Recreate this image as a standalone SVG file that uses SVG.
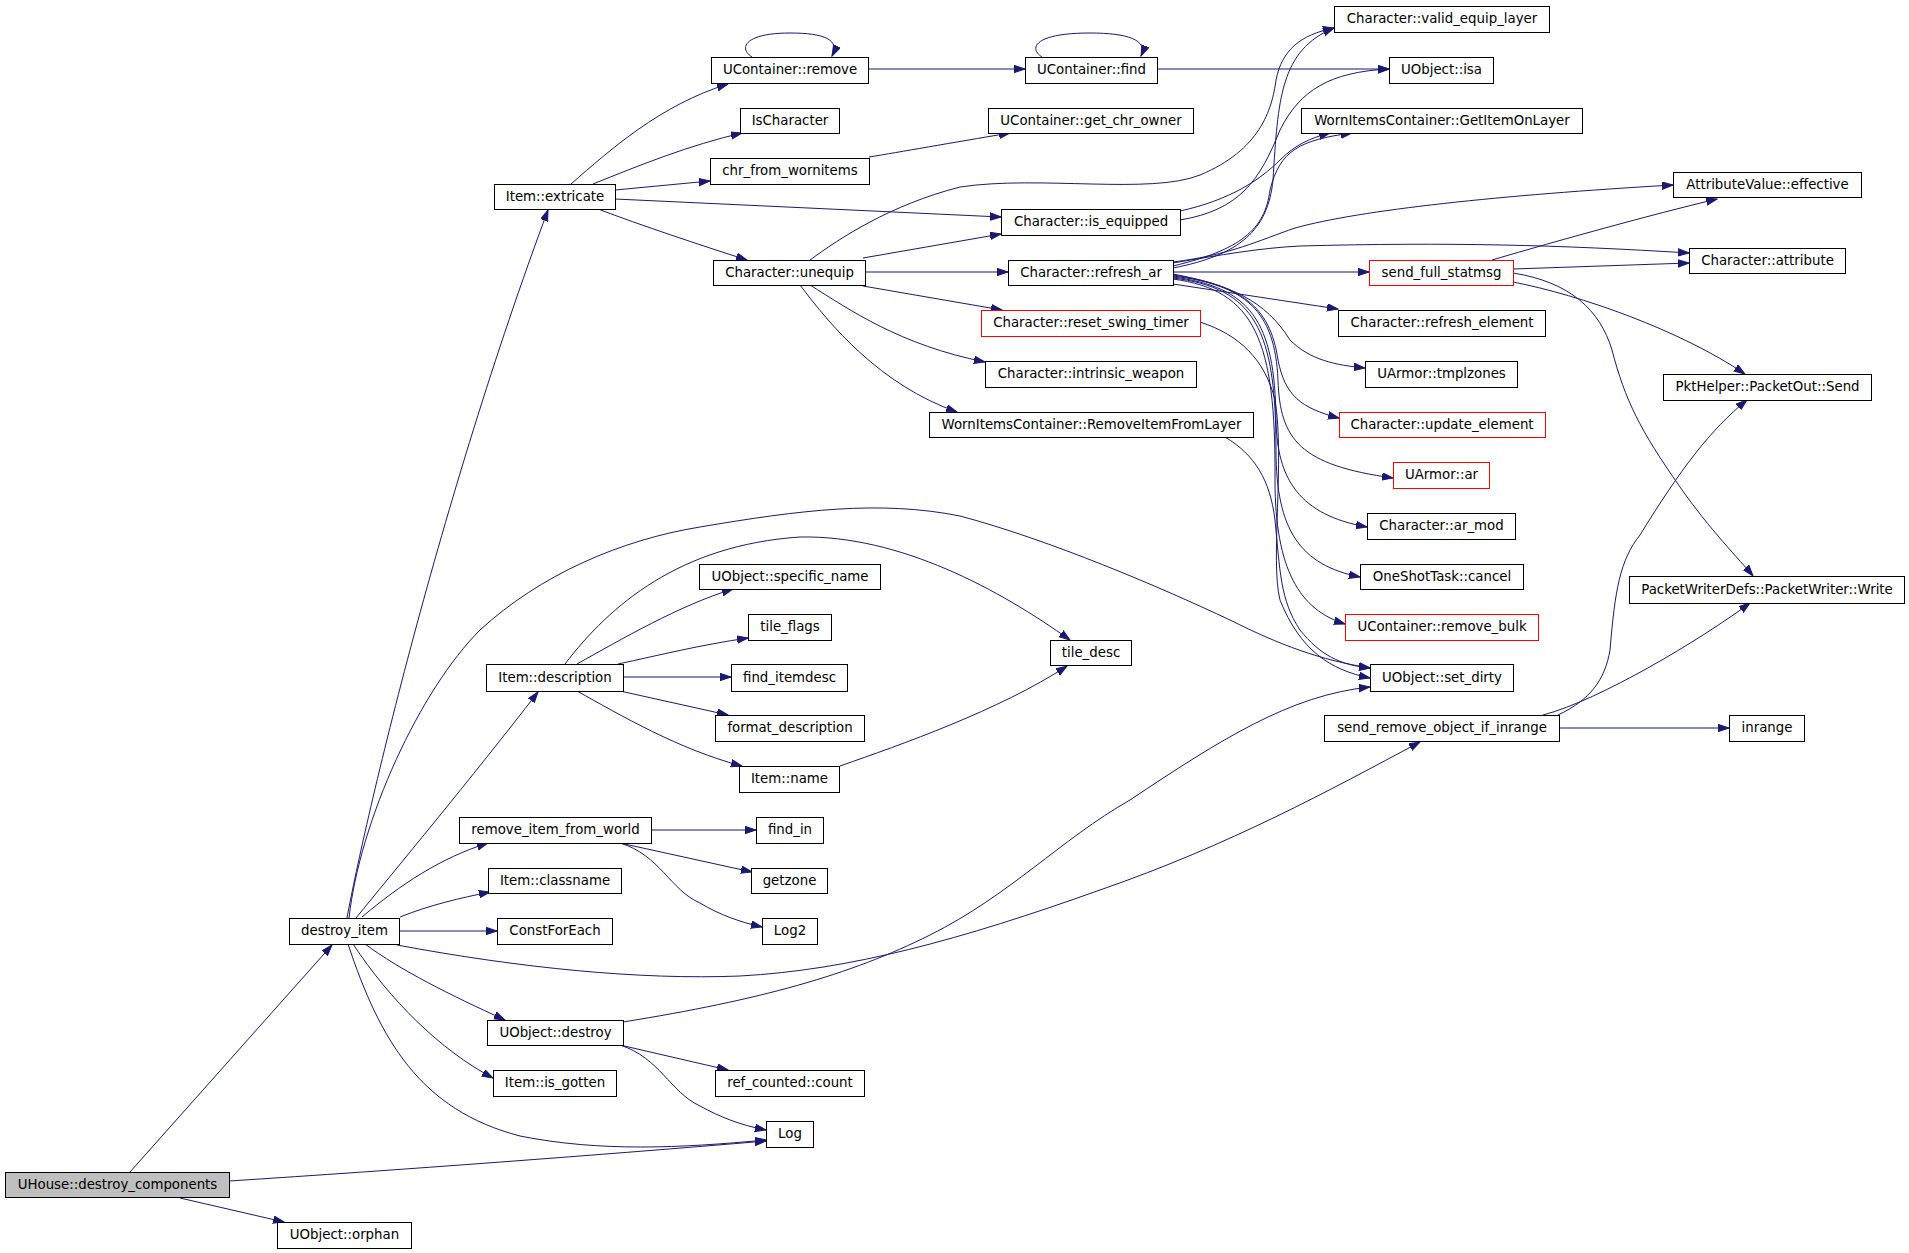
<svg xmlns="http://www.w3.org/2000/svg" width="1909" height="1253" viewBox="0 0 1909 1253">
<defs>
<marker id="a" markerWidth="12" markerHeight="9" refX="11" refY="4" orient="auto" markerUnits="userSpaceOnUse"><path d="M0,0.3 L11,4 L0,7.7z" fill="#191970" stroke="#191970" stroke-width="1"/></marker>
</defs>
<style>
.n rect{fill:#fff;stroke:#000;stroke-width:1}
.n.red rect{stroke:#ff0000}
.n.root rect{fill:#bfbfbf}
.n text{font-family:"DejaVu Sans",sans-serif;font-size:13.33px;text-anchor:middle;fill:#000}
#edges path{fill:none;stroke:#191970;stroke-width:1;marker-end:url(#a)}
</style>
<rect width="1909" height="1253" fill="#fff"/>
<g id="edges">
<path d="M130,1172 L332,945"/>
<path d="M229,1181 C400,1170 600,1155 766,1141"/>
<path d="M180,1198 L284,1222"/>
<path d="M347,918 C365,820 440,500 548,210"/>
<path d="M356,918 C395,870 470,780 538,692"/>
<path d="M349,918 C360,820 420,690 480,630 C540,575 620,540 700,527 C800,510 880,500 960,516 C1050,540 1160,587 1230,620 C1280,645 1320,660 1370,668"/>
<path d="M362,917 C400,885 440,858 488,843"/>
<path d="M400,917 C430,905 460,898 490,892"/>
<path d="M399,931 L497,931"/>
<path d="M397,945 C520,968 640,980 740,976 C850,970 960,940 1100,890 C1230,845 1330,790 1420,742"/>
<path d="M365,944 C400,970 450,995 505,1020"/>
<path d="M353,944 C390,1000 440,1050 493,1078"/>
<path d="M348,944 C380,1040 420,1110 520,1136 C600,1152 680,1148 766,1140"/>
<path d="M571,184 C610,150 660,105 728,84"/>
<path d="M593,184 C640,165 690,145 742,133"/>
<path d="M615,190 L710,181"/>
<path d="M615,199 L1001,217"/>
<path d="M598,209 C640,225 700,245 747,260"/>
<path d="M869,157 C900,152 950,143 1010,133"/>
<path d="M752,57 C738,48 745,33 790,33 C825,33 840,40 832,56"/>
<path d="M868,69 L1025,69"/>
<path d="M1042,57 C1028,48 1035,33 1090,33 C1128,33 1148,40 1141,56"/>
<path d="M1157,69 L1389,69"/>
<path d="M810,260 C840,238 890,205 960,187 C1040,175 1150,195 1200,175 C1260,150 1272,110 1276,80 C1282,50 1300,35 1334,28"/>
<path d="M863,258 L1001,234"/>
<path d="M865,272 L1008,272"/>
<path d="M863,286 L1002,310"/>
<path d="M810,285 C850,310 900,345 985,362"/>
<path d="M800,285 C830,325 880,385 957,412"/>
<path d="M1180,211 C1230,200 1260,180 1280,160 C1295,145 1310,138 1330,133"/>
<path d="M1180,220 C1240,210 1260,180 1280,130 C1300,90 1330,72 1389,69"/>
<path d="M1173,268 C1240,255 1268,230 1273,180 C1278,100 1280,50 1334,28"/>
<path d="M1173,266 C1240,250 1265,230 1270,190 C1280,150 1300,140 1352,133"/>
<path d="M1173,262 C1230,255 1260,240 1295,228 C1360,210 1500,195 1673,185"/>
<path d="M1173,263 C1220,255 1260,248 1300,246 C1450,242 1560,245 1689,253"/>
<path d="M1173,272 L1369,272"/>
<path d="M1173,284 L1338,309"/>
<path d="M1173,274 C1230,285 1265,300 1290,340 C1310,360 1335,365 1365,368"/>
<path d="M1173,275 C1240,285 1270,305 1278,360 C1285,395 1300,408 1339,418"/>
<path d="M1173,276 C1245,285 1275,310 1278,380 C1280,440 1300,465 1393,478"/>
<path d="M1173,277 C1250,287 1275,320 1276,420 C1277,480 1300,515 1367,527"/>
<path d="M1173,278 C1255,288 1276,330 1276,450 C1276,530 1300,565 1360,577"/>
<path d="M1173,279 C1255,290 1276,340 1275,480 C1275,570 1300,610 1345,624"/>
<path d="M1492,260 C1560,240 1650,215 1717,199"/>
<path d="M1513,269 L1689,263"/>
<path d="M1513,282 C1580,295 1680,330 1745,374"/>
<path d="M1513,273 C1570,282 1600,310 1612,350 C1625,400 1640,430 1680,487 C1710,530 1740,560 1753,576"/>
<path d="M1200,322 C1240,335 1265,360 1275,400 C1285,460 1270,560 1280,600 C1300,650 1330,670 1370,678"/>
<path d="M1225,437 C1255,455 1270,480 1275,520 C1280,570 1280,600 1300,630 C1320,655 1340,665 1370,668"/>
<path d="M1559,728 L1729,728"/>
<path d="M1543,715 C1600,700 1700,640 1750,603"/>
<path d="M1558,715 C1590,700 1605,680 1610,650 C1615,590 1620,560 1640,535 C1680,470 1710,430 1747,400"/>
<path d="M565,664 C610,605 680,545 800,537 C900,535 1000,590 1070,640"/>
<path d="M577,664 C620,640 680,605 733,589"/>
<path d="M618,664 C660,655 700,645 748,638"/>
<path d="M623,677 L731,677"/>
<path d="M620,691 L728,715"/>
<path d="M577,691 C620,715 680,750 742,766"/>
<path d="M840,766 C900,745 1000,710 1067,666"/>
<path d="M651,830 L756,830"/>
<path d="M620,843 L752,872"/>
<path d="M620,843 C660,855 670,890 700,903 C720,915 740,922 762,927"/>
<path d="M623,1022 C760,1000 850,975 930,935 C1010,895 1060,840 1130,800 C1220,740 1290,695 1370,687"/>
<path d="M620,1045 L728,1070"/>
<path d="M620,1045 C660,1058 670,1092 700,1106 C720,1117 740,1125 766,1130"/>
</g>
<g id="n1" class="n root"><rect x="5.5" y="1172.5" width="224" height="25"/><text x="117.5" y="1188.6">UHouse::destroy_components</text></g>
<g id="n2" class="n"><rect x="289.5" y="918.5" width="110" height="26"/><text x="344.5" y="935.1">destroy_item</text></g>
<g id="n3" class="n"><rect x="277.5" y="1222.5" width="134" height="26"/><text x="344.5" y="1239.1">UObject::orphan</text></g>
<g id="n4" class="n"><rect x="766.5" y="1121.5" width="47" height="26"/><text x="790" y="1138.1">Log</text></g>
<g id="n5" class="n"><rect x="494.5" y="184.5" width="121" height="25"/><text x="555" y="200.6">Item::extricate</text></g>
<g id="n6" class="n"><rect x="486.5" y="664.5" width="137" height="27"/><text x="555" y="681.6">Item::description</text></g>
<g id="n7" class="n"><rect x="459.5" y="817.5" width="192" height="26"/><text x="555.5" y="834.1">remove_item_from_world</text></g>
<g id="n8" class="n"><rect x="488.5" y="868.5" width="133" height="25"/><text x="555" y="884.6">Item::classname</text></g>
<g id="n9" class="n"><rect x="497.5" y="918.5" width="115" height="26"/><text x="555" y="935.1">ConstForEach</text></g>
<g id="n10" class="n"><rect x="487.5" y="1020.5" width="136" height="25"/><text x="555.5" y="1036.6">UObject::destroy</text></g>
<g id="n11" class="n"><rect x="493.5" y="1070.5" width="123" height="26"/><text x="555" y="1087.1">Item::is_gotten</text></g>
<g id="n12" class="n"><rect x="1324.5" y="715.5" width="235" height="26"/><text x="1442" y="732.1">send_remove_object_if_inrange</text></g>
<g id="n13" class="n"><rect x="1370.5" y="664.5" width="143" height="27"/><text x="1442" y="681.6">UObject::set_dirty</text></g>
<g id="n14" class="n"><rect x="711.5" y="57.5" width="157" height="26"/><text x="790" y="74.1">UContainer::remove</text></g>
<g id="n15" class="n"><rect x="740.5" y="108.5" width="99" height="25"/><text x="790" y="124.6">IsCharacter</text></g>
<g id="n16" class="n"><rect x="710.5" y="158.5" width="159" height="26"/><text x="790" y="175.1">chr_from_wornitems</text></g>
<g id="n17" class="n"><rect x="1001.5" y="209.5" width="179" height="26"/><text x="1091" y="226.1">Character::is_equipped</text></g>
<g id="n18" class="n"><rect x="713.5" y="260.5" width="152" height="25"/><text x="789.5" y="276.6">Character::unequip</text></g>
<g id="n19" class="n"><rect x="1025.5" y="57.5" width="132" height="26"/><text x="1091.5" y="74.1">UContainer::find</text></g>
<g id="n20" class="n"><rect x="988.5" y="108.5" width="205" height="25"/><text x="1091" y="124.6">UContainer::get_chr_owner</text></g>
<g id="n21" class="n"><rect x="1389.5" y="57.5" width="104" height="26"/><text x="1441.5" y="74.1">UObject::isa</text></g>
<g id="n22" class="n"><rect x="1334.5" y="6.5" width="215" height="26"/><text x="1442" y="23.1">Character::valid_equip_layer</text></g>
<g id="n23" class="n"><rect x="1301.5" y="108.5" width="281" height="25"/><text x="1442" y="124.6">WornItemsContainer::GetItemOnLayer</text></g>
<g id="n24" class="n"><rect x="1008.5" y="260.5" width="165" height="25"/><text x="1091" y="276.6">Character::refresh_ar</text></g>
<g id="n25" class="n red"><rect x="981.5" y="310.5" width="219" height="26"/><text x="1091" y="327.1">Character::reset_swing_timer</text></g>
<g id="n26" class="n"><rect x="985.5" y="361.5" width="211" height="26"/><text x="1091" y="378.1">Character::intrinsic_weapon</text></g>
<g id="n27" class="n"><rect x="929.5" y="412.5" width="324" height="25"/><text x="1091.5" y="428.6">WornItemsContainer::RemoveItemFromLayer</text></g>
<g id="n28" class="n"><rect x="1673.5" y="172.5" width="188" height="25"/><text x="1767.5" y="188.6">AttributeValue::effective</text></g>
<g id="n29" class="n"><rect x="1689.5" y="248.5" width="156" height="25"/><text x="1767.5" y="264.6">Character::attribute</text></g>
<g id="n30" class="n red"><rect x="1369.5" y="260.5" width="144" height="25"/><text x="1441.5" y="276.6">send_full_statmsg</text></g>
<g id="n31" class="n"><rect x="1338.5" y="310.5" width="207" height="26"/><text x="1442" y="327.1">Character::refresh_element</text></g>
<g id="n32" class="n"><rect x="1365.5" y="361.5" width="152" height="26"/><text x="1441.5" y="378.1">UArmor::tmplzones</text></g>
<g id="n33" class="n red"><rect x="1339.5" y="412.5" width="206" height="25"/><text x="1442" y="428.6">Character::update_element</text></g>
<g id="n34" class="n red"><rect x="1393.5" y="462.5" width="96" height="26"/><text x="1441.5" y="479.1">UArmor::ar</text></g>
<g id="n35" class="n"><rect x="1367.5" y="513.5" width="148" height="26"/><text x="1441.5" y="530.1">Character::ar_mod</text></g>
<g id="n36" class="n"><rect x="1360.5" y="564.5" width="163" height="25"/><text x="1442" y="580.6">OneShotTask::cancel</text></g>
<g id="n37" class="n red"><rect x="1345.5" y="614.5" width="193" height="26"/><text x="1442" y="631.1">UContainer::remove_bulk</text></g>
<g id="n38" class="n"><rect x="1663.5" y="374.5" width="208" height="26"/><text x="1767.5" y="391.1">PktHelper::PacketOut::Send</text></g>
<g id="n39" class="n"><rect x="1629.5" y="576.5" width="275" height="27"/><text x="1767" y="593.6">PacketWriterDefs::PacketWriter::Write</text></g>
<g id="n40" class="n"><rect x="1729.5" y="715.5" width="75" height="26"/><text x="1767" y="732.1">inrange</text></g>
<g id="n41" class="n"><rect x="699.5" y="564.5" width="181" height="25"/><text x="790" y="580.6">UObject::specific_name</text></g>
<g id="n42" class="n"><rect x="748.5" y="614.5" width="83" height="26"/><text x="790" y="631.1">tile_flags</text></g>
<g id="n43" class="n"><rect x="731.5" y="664.5" width="116" height="27"/><text x="789.5" y="681.6">find_itemdesc</text></g>
<g id="n44" class="n"><rect x="715.5" y="715.5" width="149" height="26"/><text x="790" y="732.1">format_description</text></g>
<g id="n45" class="n"><rect x="739.5" y="766.5" width="100" height="26"/><text x="789.5" y="783.1">Item::name</text></g>
<g id="n46" class="n"><rect x="1050.5" y="640.5" width="81" height="25"/><text x="1091" y="656.6">tile_desc</text></g>
<g id="n47" class="n"><rect x="756.5" y="817.5" width="67" height="26"/><text x="790" y="834.1">find_in</text></g>
<g id="n48" class="n"><rect x="751.5" y="868.5" width="76" height="25"/><text x="789.5" y="884.6">getzone</text></g>
<g id="n49" class="n"><rect x="762.5" y="918.5" width="55" height="26"/><text x="790" y="935.1">Log2</text></g>
<g id="n50" class="n"><rect x="715.5" y="1070.5" width="149" height="26"/><text x="790" y="1087.1">ref_counted::count</text></g>
</svg>
